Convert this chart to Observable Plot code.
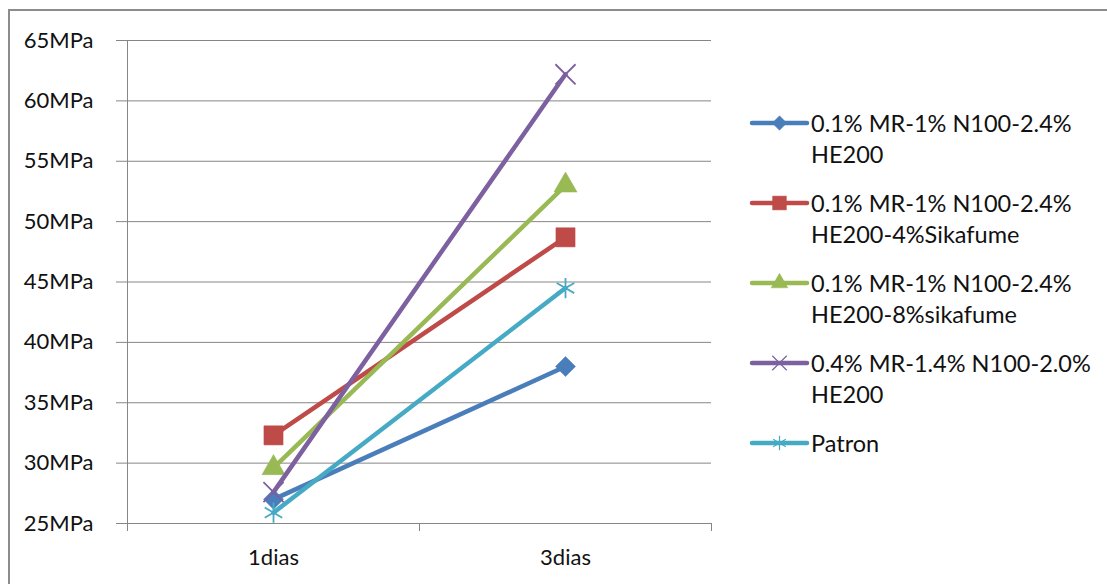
<!DOCTYPE html>
<html><head><meta charset="utf-8">
<script src="https://cdn.jsdelivr.net/npm/d3@7"></script>
<script src="https://cdn.jsdelivr.net/npm/@observablehq/plot@0.6"></script>
<style>
body{margin:0;background:#fff;font-family:Lato,sans-serif;}
#wrap{position:relative;width:1107px;height:584px;overflow:hidden;background:#fff;}
#border{position:absolute;left:8px;top:9px;width:1200px;height:700px;border:2px solid #8c8c8c;}
#chart{position:absolute;left:0;top:0;}
#legend{position:absolute;left:0;top:0;}
</style></head><body>
<div id="wrap"><div id="border"></div><div id="chart"></div><svg id="legend" width="1107" height="584"></svg></div>
<script>
const categories = ["1dias", "3dias"];
const seriesNames = [
  "0.1% MR-1% N100-2.4% HE200",
  "0.1% MR-1% N100-2.4% HE200-4%Sikafume",
  "0.1% MR-1% N100-2.4% HE200-8%sikafume",
  "0.4% MR-1.4% N100-2.0% HE200",
  "Patron"
];
const serie1 = [27.0, 38.0];
const serie2 = [32.3, 48.7];
const serie3 = [29.6, 53.0];
const serie4 = [27.6, 62.2];
const patron = [25.9, 44.5];
const seriesValues = [serie1, serie2, serie3, serie4, patron];
const yTicks = [25, 30, 35, 40, 45, 50, 55, 60, 65];
const colors = ["#4a7ebb", "#be4b48", "#98b954", "#7d60a0", "#46aac5"];
const symbols = ["diamond2", "square", "triangle", "times", "asterisk"];
const d3symbols = [d3.symbolDiamond2, d3.symbolSquare, d3.symbolTriangle, d3.symbolTimes, d3.symbolAsterisk];
const filled = [true, true, true, false, false];
const symR = [9, 10.8, 8.6, 9.2, 9.6];

const data = seriesNames.flatMap((s, i) => categories.map((c, j) => ({series: s, i, cat: c, value: seriesValues[i][j]})));
const xPos = d => categories.indexOf(d.cat) + 0.5;

const FONT = 22;
const LFONT = 23.5;
const marks = [
  Plot.ruleY(yTicks, {stroke: "#868686", strokeWidth: 1}),
  Plot.ruleX([0], {stroke: "#868686", strokeWidth: 1}),
  Plot.axisY({ticks: yTicks, label: null, tickSize: 11, tickPadding: 23, tickFormat: d => d + "MPa", stroke: "#868686", fill: "#111", fontSize: FONT}),
  Plot.axisX({ticks: d3.range(categories.length + 1), label: null, tickSize: 8, tickFormat: () => "", stroke: "#868686"}),
  Plot.axisX({ticks: categories.map((c, i) => i + 0.5), label: null, tickSize: 0, tickPadding: 26, tickFormat: v => categories[Math.floor(v)], fill: "#111", fontSize: FONT})
];
seriesNames.forEach((s, i) => {
  const rows = data.filter(d => d.i === i);
  marks.push(Plot.line(rows, {x: xPos, y: "value", stroke: colors[i], strokeWidth: 4.5, strokeLinecap: "round"}));
  marks.push(Plot.dot(rows, filled[i]
    ? {x: xPos, y: "value", symbol: () => symbols[i], r: symR[i], fill: colors[i], stroke: colors[i], strokeWidth: 0.5}
    : {x: xPos, y: "value", symbol: () => symbols[i], r: symR[i], fill: "none", stroke: colors[i], strokeWidth: 1.8}));
});

const chart = Plot.plot({
  width: 720, height: 584,
  marginLeft: 127, marginRight: 9, marginTop: 40, marginBottom: 61,
  style: {fontFamily: "Lato, sans-serif", background: "transparent", overflow: "visible"},
  x: {type: "linear", domain: [0, categories.length], axis: null, label: null},
  y: {domain: [25, 65], axis: null, label: null},
  symbol: {type: "identity"},
  marks
});
document.getElementById("chart").append(chart);

// legend
const lg = d3.select("#legend");
seriesNames.forEach((s, i) => {
  const y0 = 123 + 80 * i;
  const g = lg.append("g");
  g.append("line").attr("x1", 752).attr("x2", 807).attr("y1", y0).attr("y2", y0)
    .attr("stroke", colors[i]).attr("stroke-width", 4.5).attr("stroke-linecap", "round");
  const sym = d3.symbol(d3symbols[i], Math.PI * (symR[i] * 0.72) ** 2);
  g.append("path").attr("d", sym()).attr("transform", `translate(779.5,${y0})`)
    .attr("fill", filled[i] ? colors[i] : "none").attr("stroke", colors[i]).attr("stroke-width", filled[i] ? 0.5 : 1.2);
  const lines = s.split(/ (?=HE200)/);
  lines.forEach((t, k) => {
    g.append("text").attr("x", 811).attr("y", y0 + 9 + 31 * k)
      .attr("font-family", "Lato, sans-serif").attr("font-size", LFONT).attr("fill", "#111").text(t);
  });
});
</script>
</body></html>
